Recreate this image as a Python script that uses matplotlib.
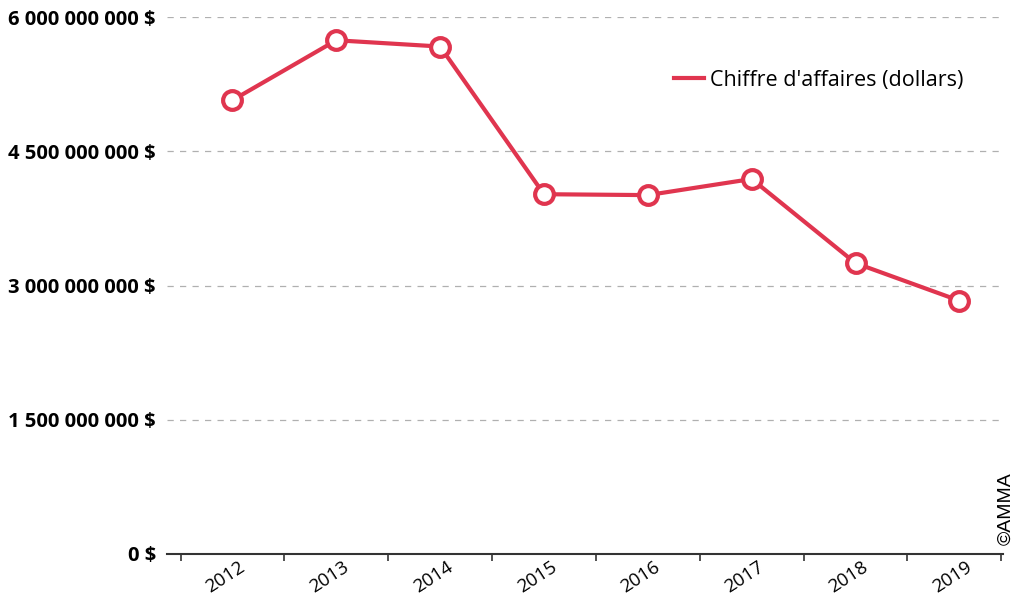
import matplotlib
matplotlib.use("Agg")
import matplotlib.pyplot as plt
from matplotlib.ticker import FuncFormatter, FixedLocator

# data
years = ["2012", "2013", "2014", "2015", "2016", "2017", "2018", "2019"]
revenue = [5.07e9, 5.74e9, 5.67e9, 4.02e9, 4.01e9, 4.19e9, 3.25e9, 2.83e9]
y_ticks = [0, 1.5e9, 3e9, 4.5e9, 6e9]
series_label = "Chiffre d'affaires (dollars)"

red = "#e0354f"
plt.rcParams['font.family'] = ['Open Sans', 'DejaVu Sans']

fig = plt.figure(figsize=(10.13, 5.99), dpi=100)
ax = fig.add_axes([167/1013, 1-554/599, 836/1013, (554-17)/599])

x = list(range(len(years)))
ax.plot(x, revenue, color=red, lw=3, marker="o", ms=13.5, mfc="white",
        mec=red, mew=3, label=series_label, zorder=3, clip_on=False)

ax.set_xlim(-0.63, 7.42)
ax.set_ylim(0, 6e9)

def fmt(v, pos):
    return "{:,.0f} $".format(v).replace(",", " ")

ax.yaxis.set_major_locator(FixedLocator(y_ticks))
ax.yaxis.set_major_formatter(FuncFormatter(fmt))
ax.tick_params(axis="y", length=0, pad=8, labelsize=14.5)
for lab in ax.get_yticklabels():
    lab.set_fontweight("bold")
ax.grid(axis="y", color="#b0b0b0", ls=(0, (5, 5)), lw=0.9)
ax.set_axisbelow(True)

ax.set_xticks(x)
ax.set_xticklabels(years, rotation=33, ha="right", rotation_mode="anchor", fontsize=13.5)
ax.tick_params(axis="x", which="major", length=0, pad=3)
ax.xaxis.set_minor_locator(FixedLocator([i - 0.5 for i in x] + [7.4]))
ax.tick_params(axis="x", which="minor", length=5, width=1.2, color="#333333")
for lab in ax.get_xticklabels():
    lab.set_transform(lab.get_transform() + matplotlib.transforms.ScaledTranslation(0.06, 0, fig.dpi_scale_trans))

for s in ["top", "right", "left"]:
    ax.spines[s].set_visible(False)
ax.spines["bottom"].set_color("#333333")
ax.spines["bottom"].set_linewidth(1.5)

leg = ax.legend(loc="upper left", bbox_to_anchor=(0.583, 0.938), frameon=False,
                fontsize=15.5, handlelength=1.4, handletextpad=0.3)
for h in leg.get_lines():
    h.set_marker("")

fig.text(0.993, 0.09, "©AMMA", rotation=90, fontsize=14, family="Liberation Sans",
         ha="center", va="bottom")

fig.savefig("out.png", dpi=100)
